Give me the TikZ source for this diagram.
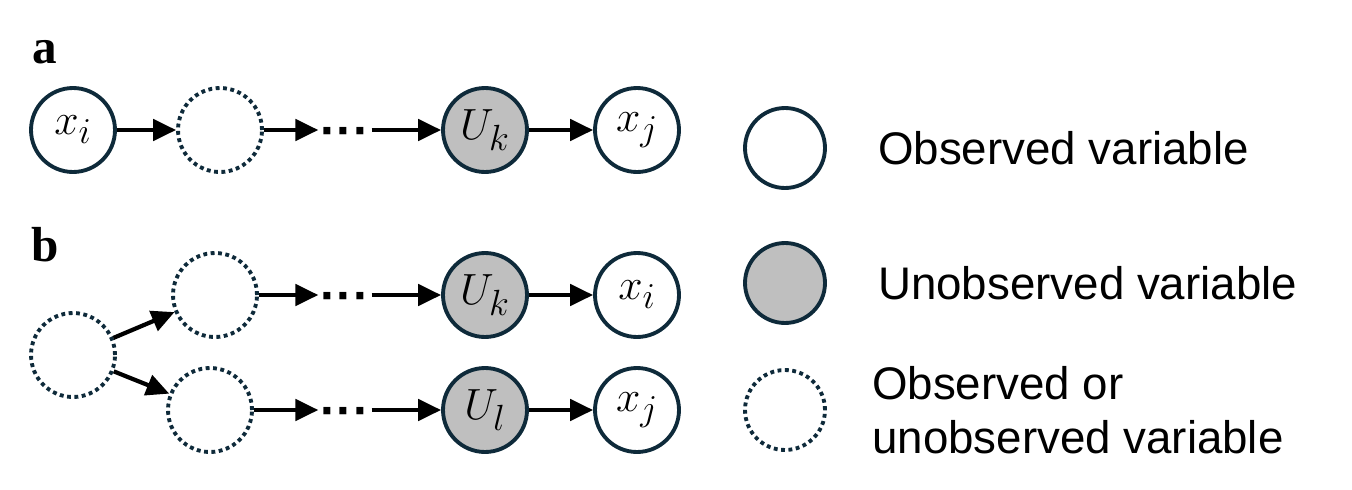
\documentclass[tikz,border=0pt]{standalone}
\usepackage{fontspec}
\setmainfont{Liberation Sans}
\newfontfamily\serifb{Liberation Serif}
\usetikzlibrary{arrows.meta}
\definecolor{navy}{HTML}{0E2A3A}
\definecolor{ugray}{HTML}{BFBFBF}
\begin{document}
\begin{tikzpicture}[x=0.02cm,y=-0.02cm,
  obs/.style={circle,draw=navy,line width=2.2pt,minimum size=1.68cm,inner sep=0pt,font=\fontsize{30}{32}\selectfont},
  unobs/.style={obs,fill=ugray},
  either/.style={obs,dotted},
  arr/.style={-{Triangle[length=13pt,width=12pt]},line width=2.4pt},
  lbl/.style={font=\fontsize{26}{31}\selectfont,anchor=west},
  dots/.style={font=\fontsize{28}{30}\selectfont\bfseries,inner sep=1pt}]
\useasboundingbox (0,0) rectangle (1352,490);
\node[font=\serifb\bfseries\fontsize{28}{30}\selectfont] (la) at (45,52) {a};
\node[font=\serifb\bfseries\fontsize{28}{30}\selectfont] (lb) at (45,245) {b};
% row a
\node[obs] (axi) at (73,130) {$x_i$};
\node[either] (ad) at (220,130) {};
\node[dots] (adots) at (345,137) {···};
\node[unobs] (auk) at (485,130) {$U_k$};
\node[obs] (axj) at (637,130) {$x_j$};
\draw[arr] (axi) -- (ad);
\draw[arr] (ad) -- (adots.west |- ad);
\draw[arr] (adots.east |- auk) -- (auk);
\draw[arr] (auk) -- (axj);
% row b
\node[either] (bl) at (73,355) {};
\node[either] (bu) at (215,295) {};
\node[either] (bd) at (210,410) {};
\node[dots] (budots) at (345,302) {···};
\node[dots] (bddots) at (345,417) {···};
\node[unobs] (buk) at (485,295) {$U_k$};
\node[obs] (bxi) at (637,295) {$x_i$};
\node[unobs] (bul) at (485,410) {$U_l$};
\node[obs] (bxj) at (637,410) {$x_j$};
\draw[arr] (bl) -- (bu);
\draw[arr] (bl) -- (bd);
\draw[arr] (bu) -- (budots.west |- bu);
\draw[arr] (budots.east |- buk) -- (buk);
\draw[arr] (buk) -- (bxi);
\draw[arr] (bd) -- (bddots.west |- bd);
\draw[arr] (bddots.east |- bul) -- (bul);
\draw[arr] (bul) -- (bxj);
% legend
\node[obs,minimum size=1.6cm] (lg1) at (785,148) {};
\node[unobs,minimum size=1.6cm] (lg2) at (785,283) {};
\node[either,minimum size=1.6cm] (lg3) at (785,410) {};
\node[lbl] (t1) at (872,148) {Observed variable};
\node[lbl] (t2) at (872,283) {Unobserved variable};
\node[lbl,align=left] (t3) at (866,410) {Observed or\\unobserved variable};
\end{tikzpicture}
\end{document}
